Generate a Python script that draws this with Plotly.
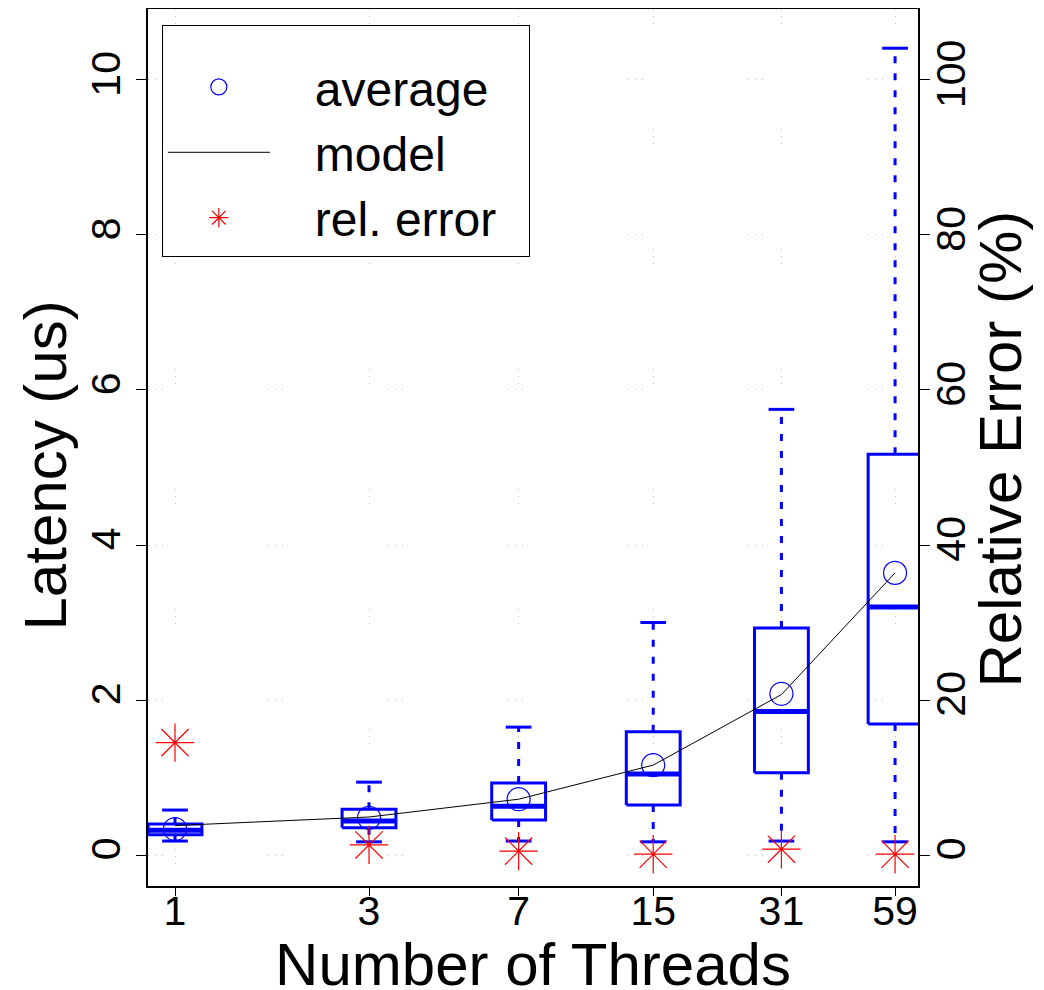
import numpy as np
import plotly.graph_objects as go

threads = [1, 3, 7, 15, 31, 59]
tick_labels = ["1", "3", "7", "15", "31", "59"]
lower_whisker = [0.18, 0.17, 0.18, 0.17, 0.18, 0.17]
q1 = [0.26, 0.35, 0.45, 0.645, 1.06, 1.69]
median = [0.32, 0.44, 0.63, 1.045, 1.85, 3.20]
q3 = [0.40, 0.59, 0.93, 1.59, 2.93, 5.17]
upper_whisker = [0.58, 0.94, 1.65, 3.00, 5.75, 10.41]
average = [0.335, 0.48, 0.72, 1.16, 2.08, 3.64]
model = [0.38, 0.49, 0.72, 1.16, 2.07, 3.64]
rel_error = [14.5, 1.3, 0.5, 0.1, 0.75, 0.1]

xpos = np.log2(threads)
half_box = 0.22
half_cap = 0.105
BLUE = "#0000ff"
RED = "#ff0000"
NB = "\u00a0"

fig = go.Figure()

for i, c in enumerate(xpos):
    # dashed whiskers
    fig.add_trace(go.Scatter(x=[c, c, None, c, c], y=[q3[i], upper_whisker[i], None, q1[i], lower_whisker[i]],
                             mode="lines", line=dict(color=BLUE, width=3, dash="7px,10px"),
                             showlegend=False, hoverinfo="skip"))
    # caps
    fig.add_trace(go.Scatter(x=[c - half_cap, c + half_cap, None, c - half_cap, c + half_cap],
                             y=[upper_whisker[i], upper_whisker[i], None, lower_whisker[i], lower_whisker[i]],
                             mode="lines", line=dict(color=BLUE, width=3),
                             showlegend=False, hoverinfo="skip"))
    # box
    fig.add_trace(go.Scatter(x=[c - half_box, c + half_box, c + half_box, c - half_box, c - half_box],
                             y=[q1[i], q1[i], q3[i], q3[i], q1[i]],
                             mode="lines", line=dict(color=BLUE, width=3),
                             showlegend=False, hoverinfo="skip"))
    # median
    fig.add_trace(go.Scatter(x=[c - half_box, c + half_box], y=[median[i], median[i]],
                             mode="lines", line=dict(color=BLUE, width=5),
                             showlegend=False, hoverinfo="skip"))

fig.add_trace(go.Scatter(x=xpos, y=average, mode="markers", name=NB * 3 + "average",
                         marker=dict(symbol="circle-open", size=23, color=BLUE, line=dict(width=1.2, color=BLUE))))
fig.add_trace(go.Scatter(x=xpos, y=model, mode="lines", name=NB * 3 + "model",
                         line=dict(color="black", width=1)))
fig.add_trace(go.Scatter(x=xpos, y=rel_error, mode="markers", name=NB * 3 + "rel. error" + NB * 2, yaxis="y2",
                         marker=dict(symbol="asterisk-open", size=32, color=RED, line=dict(width=1.2, color=RED))))

grid_dash = "1px,6px,1px,6px,1px,105px"
FAM = "Liberation Sans, Arial, sans-serif"
tick_font = dict(family=FAM, size=41, color="black")
title_font = dict(family=FAM, size=60, color="black")

fig.update_layout(
    width=1044, height=990, autosize=False,
    margin=dict(l=140, r=134, t=1, b=112),
    paper_bgcolor="white", plot_bgcolor="white",
    font=dict(family=FAM, color="black"),
    xaxis=dict(range=[-0.2206, 6.070], tickmode="array", tickvals=list(xpos), ticktext=tick_labels,
               ticks="outside", ticklen=8, tickwidth=1, tickcolor="black",
               showline=True, linecolor="black", linewidth=2, mirror=True,
               showgrid=True, gridcolor="#c0c0c0", gridwidth=1, griddash=grid_dash,
               zeroline=False, tickfont=tick_font, automargin=False, ticklabelstandoff=-20,
               title=dict(text="Number of Threads", font=title_font, standoff=20)),
    yaxis=dict(range=[-0.4, 10.916], tickmode="array", tickvals=[0, 2, 4, 6, 8, 10],
               tickangle=-90, ticks="outside", ticklen=10, tickwidth=1, tickcolor="black",
               showline=True, linecolor="black", linewidth=2,
               showgrid=True, gridcolor="#c0c0c0", gridwidth=1, griddash=grid_dash,
               zeroline=False, tickfont=tick_font, automargin=False, ticklabelstandoff=0),
    yaxis2=dict(range=[-4, 109.16], overlaying="y", side="right", tickmode="array",
                tickvals=[0, 20, 40, 60, 80, 100], tickangle=-90,
                ticks="outside", ticklen=10, tickwidth=1, tickcolor="black",
                showline=True, linecolor="black", linewidth=2,
                showgrid=False, zeroline=False, tickfont=tick_font, automargin=False,
                ticklabelstandoff=-14),
    legend=dict(x=0.018, y=0.982, xanchor="left", yanchor="top",
                bgcolor="white", bordercolor="black", borderwidth=1,
                font=dict(family=FAM, size=48, color="black"),
                title=dict(text=NB, font=dict(size=18)),
                itemwidth=102, itemsizing="trace"),
    annotations=[
        dict(text="Latency (us)", xref="paper", yref="paper", x=0, y=0.5,
             xanchor="center", yanchor="middle", xshift=-103, yshift=-18,
             textangle=-90, showarrow=False, font=title_font),
        dict(text="Relative Error (%)", xref="paper", yref="paper", x=1, y=0.5,
             xanchor="center", yanchor="middle", xshift=82, yshift=-2,
             textangle=-90, showarrow=False, font=title_font),
    ],
)

fig.write_html("out.html")
